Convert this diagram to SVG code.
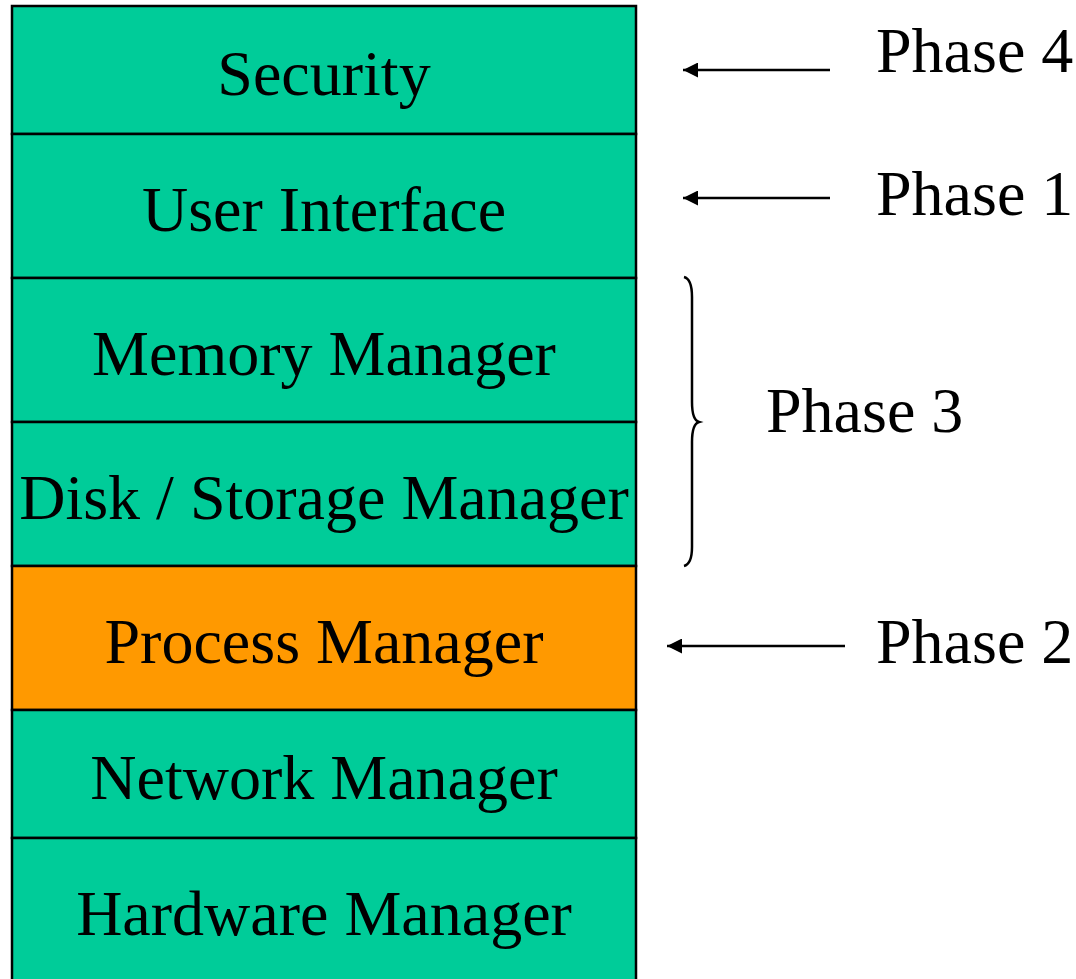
<svg xmlns="http://www.w3.org/2000/svg" width="1076" height="979" viewBox="0 0 1076 979">
<style>
.box{stroke:#000;stroke-width:2.5}
.g{fill:#00CC99}
.o{fill:#FF9900}
text{font-family:"Liberation Serif","Times New Roman",serif;font-size:64px;fill:#000}
.lbl{text-anchor:middle}
.ln{stroke:#000;stroke-width:2.5;fill:none}
</style>
<defs>
<marker id="ah" markerWidth="16" markerHeight="15" refX="15" refY="7.5" orient="auto" markerUnits="userSpaceOnUse">
<path d="M0,0 L15,7.5 L0,15 Z" fill="#000"/>
</marker>
</defs>
<rect width="1076" height="979" fill="#fff"/>
<g id="security"><rect class="box g" x="12" y="6" width="624" height="128"/><text class="lbl" x="324" y="95">Security</text></g>
<g id="user-interface"><rect class="box g" x="12" y="134" width="624" height="144"/><text class="lbl" x="324" y="231">User Interface</text></g>
<g id="memory-manager"><rect class="box g" x="12" y="278" width="624" height="144"/><text class="lbl" x="324" y="375">Memory Manager</text></g>
<g id="disk-storage-manager"><rect class="box g" x="12" y="422" width="624" height="144"/><text class="lbl" x="324" y="519">Disk / Storage Manager</text></g>
<g id="process-manager"><rect class="box o" x="12" y="566" width="624" height="144"/><text class="lbl" x="324" y="663">Process Manager</text></g>
<g id="network-manager"><rect class="box g" x="12" y="710" width="624" height="128"/><text class="lbl" x="324" y="799">Network Manager</text></g>
<g id="hardware-manager"><rect class="box g" x="12" y="838" width="624" height="150"/><text class="lbl" x="324" y="935">Hardware Manager</text></g>
<g id="phase-labels">
<text x="876" y="72">Phase 4</text>
<text x="876" y="215">Phase 1</text>
<text x="766" y="432">Phase 3</text>
<text x="876" y="663">Phase 2</text>
</g>
<g id="connectors">
<line class="ln" x1="830" y1="70" x2="683" y2="70" marker-end="url(#ah)"/>
<line class="ln" x1="830" y1="198" x2="683" y2="198" marker-end="url(#ah)"/>
<line class="ln" x1="845" y1="646" x2="667" y2="646" marker-end="url(#ah)"/>
<path class="ln" d="M684,277 Q692,279 692,297 L692,402 Q692,420 699,422 Q692,424 692,442 L692,547 Q692,564 684,566"/>
</g>
</svg>
